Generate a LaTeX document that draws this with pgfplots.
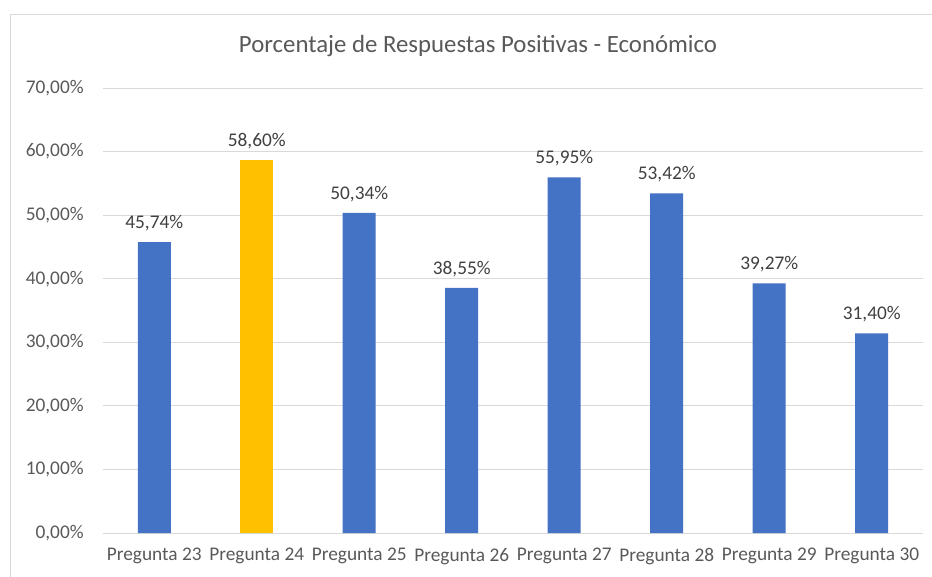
\documentclass[border=0pt]{standalone}
\usepackage{pgfplots}
\pgfplotsset{compat=1.18}
\usepackage{fontspec}
\setmainfont{Carlito}
\definecolor{barblue}{HTML}{4472C4}
\definecolor{barorange}{HTML}{FFC000}
\definecolor{txtgray}{HTML}{595959}
\definecolor{lblgray}{HTML}{404040}
\definecolor{gridgray}{HTML}{D9D9D9}
\begin{document}
\begin{tikzpicture}
\path[use as bounding box] (0,0) rectangle (699pt,432pt);
\begin{scope}
\clip (0,0) rectangle (699pt,432pt);
\draw[gridgray, line width=0.75pt] (7.5pt,-10pt) rectangle (720pt,420.75pt);
\end{scope}
\node[txtgray, font=\fontsize{18.6}{22}\selectfont] at (358.5pt,397.5pt) {Porcentaje de Respuestas Positivas - Económico};
\begin{axis}[
  at={(77.25pt,32.25pt)}, anchor=south west,
  scale only axis, width=615pt, height=333.75pt,
  xmin=-0.5, xmax=7.5, ymin=0, ymax=70,
  ytick={0,10,...,70},
  yticklabels={{0,00\%},{10,00\%},{20,00\%},{30,00\%},{40,00\%},{50,00\%},{60,00\%},{70,00\%}},
  xtick={0,...,7},
  xticklabels={Pregunta 23,Pregunta 24,Pregunta 25,Pregunta 26,Pregunta 27,Pregunta 28,Pregunta 29,Pregunta 30},
  /pgf/number format/assume math mode=true,
  ymajorgrids, grid style={gridgray, line width=0.75pt},
  axis line style={draw=none},
  axis x line*=bottom, axis y line*=left,
  major tick length=0pt,
  tick label style={txtgray, font=\fontsize{14.5}{17}\selectfont},
  yticklabel style={xshift=-11pt},
  xticklabel style={yshift=-8pt},
  ybar, bar width=24.75pt, bar shift=0pt,
  nodes near coords={\pgfmathprintnumber[fixed,fixed zerofill,precision=2,use comma]{\pgfplotspointmeta}\%},
  nodes near coords style={lblgray, font=\fontsize{14.5}{17}\selectfont, yshift=5pt},
  clip=false,
]
\addplot[fill=barblue, draw=none] coordinates {(0,45.74) (2,50.34) (3,38.55) (4,55.95) (5,53.42) (6,39.27) (7,31.40)};
\addplot[fill=barorange, draw=none] coordinates {(1,58.60)};
\end{axis}
\end{tikzpicture}
\end{document}
